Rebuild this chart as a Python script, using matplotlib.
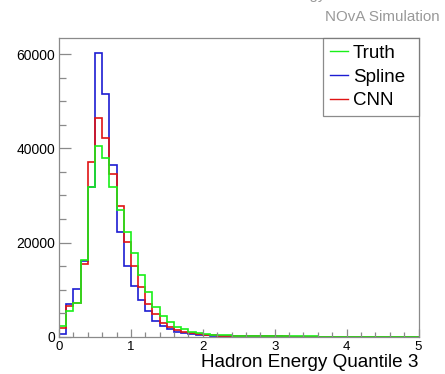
import numpy as np
import matplotlib
matplotlib.use('Agg')
import matplotlib.pyplot as plt
from matplotlib.ticker import MultipleLocator

plt.rcParams['font.family'] = ['Liberation Sans', 'DejaVu Sans']

# 50 bins of 0.1 from 0 to 5
edges = np.linspace(0, 5, 51)

truth = [2200, 5500, 7100, 16300, 31700, 40500, 37900, 31900, 27000, 22300,
         17700, 13100, 9400, 6400, 4300, 3200, 2100, 1600, 1100, 750,
         600, 450, 350, 280, 220, 180, 150, 120, 100, 90,
         80, 70, 60, 55, 50, 45, 40, 38, 35, 32,
         30, 28, 26, 24, 22, 20, 18, 16, 15, 14]
spline = [500, 6900, 10100, 16100, 31700, 60300, 51500, 36500, 22300, 15000,
          10800, 7800, 5500, 3400, 2300, 1600, 1100, 850, 600, 400,
          300, 250, 200, 150, 120, 100, 80, 70, 60, 50,
          45, 40, 35, 30, 28, 25, 22, 20, 18, 16,
          15, 14, 12, 11, 10, 9, 8, 7, 6, 5]
cnn = [1800, 6500, 7100, 15400, 37200, 46500, 42300, 34500, 27700, 20200,
       15100, 10500, 6900, 4800, 3000, 2100, 1400, 1100, 700, 500,
       400, 320, 250, 200, 150, 120, 100, 80, 70, 60,
       50, 45, 40, 35, 30, 28, 25, 22, 20, 18,
       16, 15, 14, 12, 11, 10, 9, 8, 7, 6]

green = '#19f019'
blue = '#1c1cd2'
red = '#e01414'
gray = '#8a8a8a'

fig = plt.figure(figsize=(4.45, 3.74), dpi=100)
ax = fig.add_axes([59 / 445, 1 - 336.7 / 374, (418.5 - 59) / 445, (336.7 - 38) / 374])

ax.stairs(spline, edges, color=blue, lw=1.2, baseline=0, label='Spline')
ax.stairs(cnn, edges, color=red, lw=1.2, baseline=0, label='CNN')
ax.stairs(truth, edges, color=green, lw=1.2, baseline=0, label='Truth')

ax.set_xlim(0, 5)
ax.set_ylim(0, 63460)

for s in ax.spines.values():
    s.set_color(gray)
    s.set_linewidth(0.9)

ax.xaxis.set_major_locator(MultipleLocator(1))
ax.xaxis.set_minor_locator(MultipleLocator(0.2))
ax.yaxis.set_major_locator(MultipleLocator(20000))
ax.yaxis.set_minor_locator(MultipleLocator(5000))
ax.tick_params(axis='both', which='both', direction='in', color=gray, width=0.9)
ax.tick_params(axis='y', which='major', length=8.6, pad=2.9, labelsize=10)
ax.tick_params(axis='y', which='minor', length=5)
ax.tick_params(axis='x', which='major', length=6, pad=3.2, labelsize=9.5)
ax.tick_params(axis='x', which='minor', length=3.5)

ax.set_xlabel('Hadron Energy Quantile 3', fontsize=13.6, ha='right', va='baseline')
ax.xaxis.set_label_coords(1.0, -(367 - 336.7) / 298.7)

h, l = ax.get_legend_handles_labels()
order = [2, 0, 1]
leg = ax.legend([h[i] for i in order], [l[i] for i in order],
                loc='upper left', bbox_to_anchor=((323 - 59) / 359.5, 1.0, (419 - 323) / 359.5, 0),
                mode='expand', borderaxespad=0, borderpad=0.35, fontsize=13.5,
                handlelength=1.0, handletextpad=0.25, labelspacing=0.36,
                fancybox=False, frameon=True)
leg.get_frame().set_edgecolor('#6e6e6e')
leg.get_frame().set_linewidth(0.9)
for ln in leg.get_lines():
    ln.set_linewidth(1.0)

fig.text(440 / 445, 1 - 21 / 374, 'NOvA Simulation', color='#999999',
         fontsize=10.9, ha='right', va='baseline')
fig.text(326 / 445, 1 + 1 / 374, 'Hadron Energy', color='#999999',
         fontsize=10.9, ha='right', va='baseline')

fig.savefig('out.png', dpi=100)
